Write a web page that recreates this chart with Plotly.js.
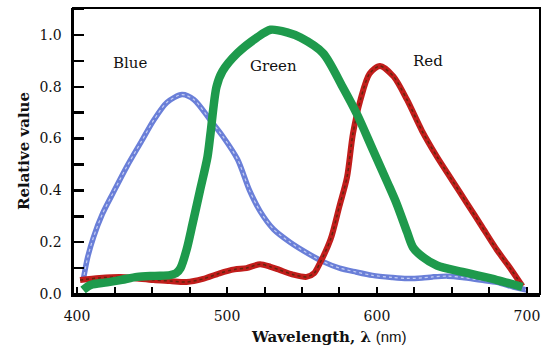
<!DOCTYPE html>
<html>
<head>
<meta charset="utf-8">
<script src="https://cdn.plot.ly/plotly-3.0.1.min.js"></script>
<style>html,body{margin:0;padding:0;background:#fff;}#chart{width:550px;height:354px;}</style>
</head>
<body>
<div id="chart"></div>
<script>
// Wavelength (nm) and relative values
const blueX = [404, 407, 411, 417, 424, 433, 443, 451, 460, 470, 478, 489, 497, 507, 515, 522, 531, 542, 553, 564, 575, 586, 597, 610, 620, 630, 637, 647, 657, 669, 680, 691, 700];
const blueY = [0.05, 0.14, 0.22, 0.31, 0.39, 0.49, 0.59, 0.67, 0.74, 0.77, 0.75, 0.67, 0.61, 0.52, 0.40, 0.32, 0.25, 0.20, 0.16, 0.125, 0.10, 0.085, 0.072, 0.064, 0.060, 0.062, 0.066, 0.069, 0.064, 0.054, 0.045, 0.027, 0.015];

const greenX = [404, 409, 420, 430, 440, 452, 462, 466, 469, 473, 477, 482, 487, 489, 493, 497, 507, 520, 529, 540, 549, 564, 577, 587, 597, 607, 613, 620, 624, 630, 640, 657, 680, 697];
const greenY = [0.015, 0.035, 0.045, 0.055, 0.066, 0.07, 0.073, 0.08, 0.10, 0.17, 0.27, 0.40, 0.53, 0.62, 0.80, 0.86, 0.93, 0.99, 1.02, 1.01, 0.99, 0.93, 0.80, 0.69, 0.56, 0.43, 0.35, 0.24, 0.18, 0.145, 0.11, 0.085, 0.054, 0.027];

const redX = [402, 415, 429, 440, 451, 462, 473, 484, 495, 505, 513, 522, 529, 535, 544, 553, 558, 562, 569, 575, 580, 584, 589, 595, 602, 611, 620, 630, 640, 650, 660, 670, 680, 690, 697];
const redY = [0.054, 0.062, 0.066, 0.06, 0.054, 0.05, 0.046, 0.058, 0.08, 0.095, 0.10, 0.115, 0.105, 0.093, 0.075, 0.066, 0.08, 0.12, 0.21, 0.34, 0.45, 0.62, 0.75, 0.85, 0.88, 0.84, 0.75, 0.63, 0.53, 0.44, 0.35, 0.26, 0.17, 0.09, 0.03];

const xTicks = [400, 500, 600, 700];
const yTicks = [0.0, 0.2, 0.4, 0.6, 0.8, 1.0];
const yTickText = ["0.0", "0.2", "0.4", "0.6", "0.8", "1.0"];
const curveLabels = ["Blue", "Green", "Red"];
const curveLabelX = [435, 531, 634];
const curveLabelY = [0.89, 0.88, 0.90];

const serif = "DejaVu Serif, Liberation Serif, serif";

const traces = [
  {x: blueX, y: blueY, mode: "lines", line: {color: "#6a7fd8", width: 5.5, shape: "spline", smoothing: 0.8}, hoverinfo: "skip"},
  {x: blueX, y: blueY, mode: "lines", line: {color: "rgba(235,240,255,0.7)", width: 1.2, dash: "dot", shape: "spline", smoothing: 0.8}, hoverinfo: "skip"},
  {x: redX, y: redY, mode: "lines", line: {color: "#c11d1b", width: 6, shape: "spline", smoothing: 0.8}, hoverinfo: "skip"},
  {x: redX, y: redY, mode: "lines", line: {color: "rgba(70,40,10,0.75)", width: 1.5, dash: "dot", shape: "spline", smoothing: 0.8}, hoverinfo: "skip"},
  {x: greenX, y: greenY, mode: "lines", line: {color: "#1e9a4c", width: 8.5, shape: "spline", smoothing: 0.8}, hoverinfo: "skip"}
];

const annotations = curveLabels.map((t, i) => ({
  x: curveLabelX[i], y: curveLabelY[i], xref: "x", yref: "y", text: t, showarrow: false,
  font: {family: serif, size: 15, color: "#111"}
}));
annotations.push({
  xref: "paper", yref: "paper", x: (329 - 73) / (540 - 73), y: -(337 - 294) / (294 - 8),
  xanchor: "center", yanchor: "middle", showarrow: false,
  text: "<b>Wavelength, λ</b> <span style='font-family:Liberation Sans, Arial, sans-serif'>(nm)</span>",
  font: {family: serif, size: 15, color: "#111"}
});

const layout = {
  width: 550, height: 354,
  margin: {l: 73, r: 10, t: 8, b: 60},
  paper_bgcolor: "#fff", plot_bgcolor: "#fff",
  showlegend: false,
  xaxis: {
    range: [397.3, 708.7], showgrid: false, zeroline: false,
    showline: true, linecolor: "#000", linewidth: 2.5,
    tickvals: xTicks, ticktext: xTicks.map(String), ticks: "inside", ticklen: 7, tickwidth: 2, tickcolor: "#000",
    minor: {dtick: 25, tick0: 400, ticks: "inside", ticklen: 7, tickwidth: 2, tickcolor: "#000"},
    tickfont: {family: serif, size: 14, color: "#111"}, ticklabelstandoff: 8
  },
  yaxis: {
    range: [0, 1.104], showgrid: false, zeroline: false,
    showline: true, linecolor: "#000", linewidth: 2.5,
    tickvals: yTicks, ticktext: yTickText, ticks: "inside", ticklen: 11, tickwidth: 2.5, tickcolor: "#000",
    minor: {dtick: 0.1, tick0: 0, ticks: "inside", ticklen: 11, tickwidth: 2.5, tickcolor: "#000"},
    tickfont: {family: serif, size: 14, color: "#111"}, ticklabelstandoff: 6,
    title: {text: "<b>Relative value</b>", font: {family: serif, size: 15, color: "#111"}, standoff: 6}
  },
  shapes: [{type: "rect", xref: "paper", yref: "paper", x0: 0, x1: 1, y0: 0, y1: 1, line: {color: "#000", width: 2}}],
  annotations: annotations
};

Plotly.newPlot("chart", traces, layout, {staticPlot: true, displayModeBar: false});
</script>
</body>
</html>
